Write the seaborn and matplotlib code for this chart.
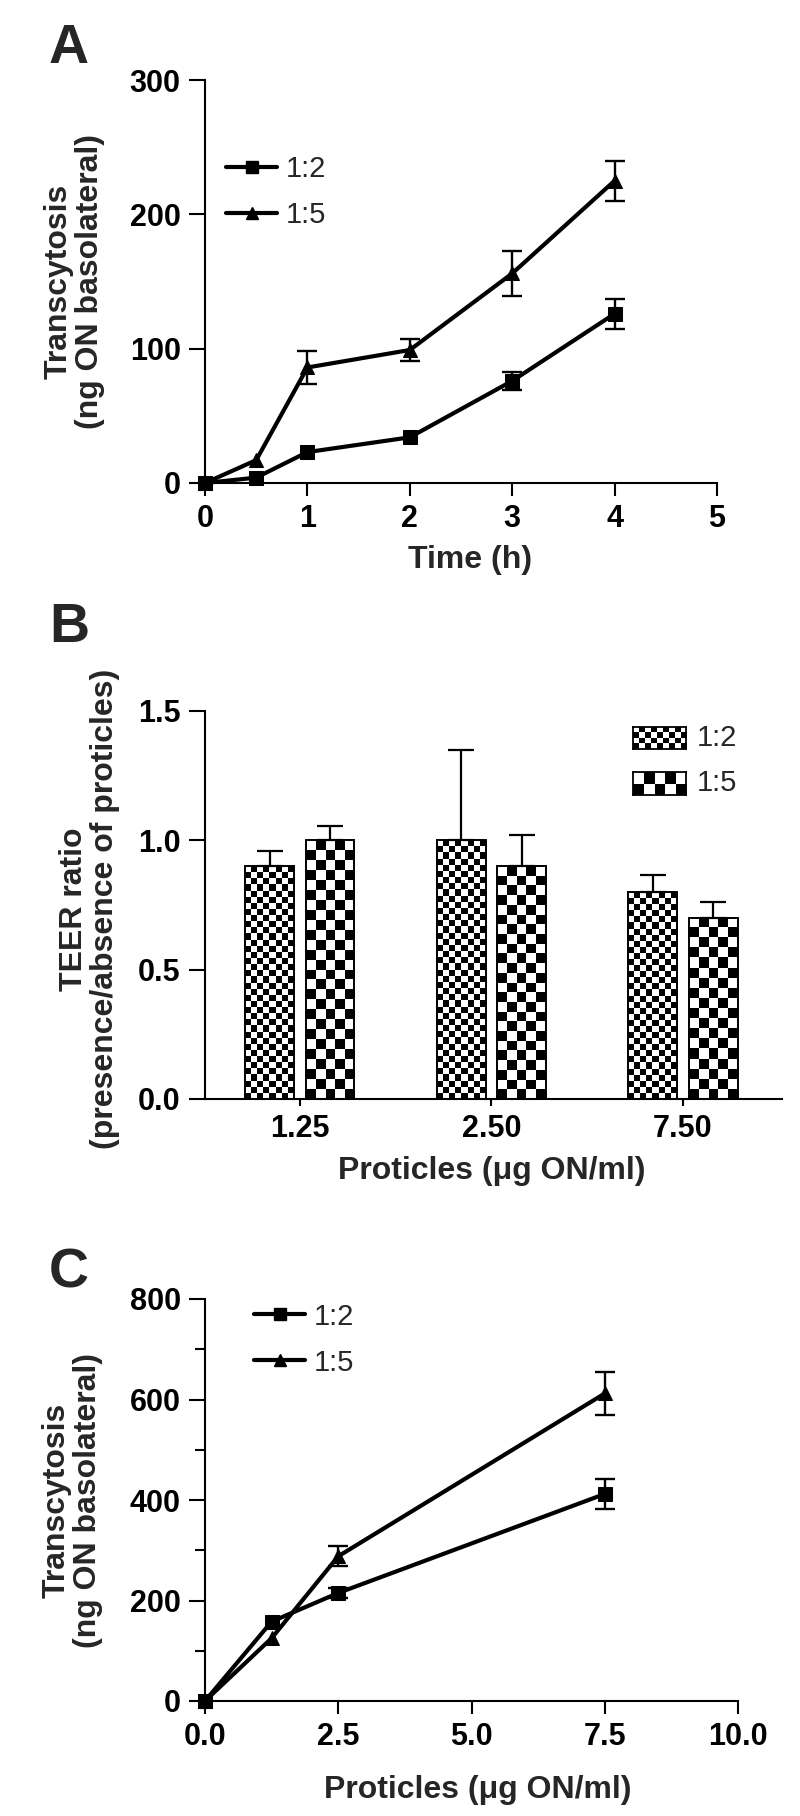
import numpy as np
import pandas as pd
import matplotlib
matplotlib.use("Agg")
import matplotlib.pyplot as plt
from matplotlib.lines import Line2D
import seaborn as sns

# ---------------- data ----------------
ratios = ["1:2", "1:5"]

# Panel A: transcytosis vs time
time_h = [0, 0.5, 1, 2, 3, 4]
a_12 = [0, 4, 23, 34, 76, 126]
a_12_err = [0, 0, 0, 0, 7, 11]
a_15 = [0, 17, 86, 99, 156, 225]
a_15_err = [0, 0, 12, 8, 17, 15]

# Panel B: TEER ratio
conc_labels = ["1.25", "2.50", "7.50"]
b_12 = [0.9, 1.0, 0.8]
b_12_err = [0.06, 0.35, 0.065]
b_15 = [1.0, 0.9, 0.7]
b_15_err = [0.055, 0.12, 0.06]

# Panel C: transcytosis vs concentration
conc = [0, 1.25, 2.5, 7.5]
c_12 = [0, 158, 215, 412]
c_12_err = [0, 0, 10, 30]
c_15 = [0, 125, 288, 612]
c_15_err = [0, 0, 20, 42]

# ---------------- style ----------------
sns.set_theme(style="ticks")
plt.rcParams["font.family"] = ["Liberation Sans", "DejaVu Sans"]
plt.rcParams.update({
    "axes.linewidth": 1.5,
    "xtick.major.width": 1.5, "ytick.major.width": 1.5,
    "xtick.minor.width": 1.5, "ytick.minor.width": 1.5,
    "xtick.major.size": 9, "ytick.major.size": 11.5,
    "ytick.minor.size": 7,
    "xtick.labelsize": 22, "ytick.labelsize": 22,
    "xtick.color": "black", "ytick.color": "black",
    "axes.edgecolor": "black",
})

W, H = 800, 1816
fig = plt.figure(figsize=(W / 100, H / 100), dpi=100)


def rect(l, r, t, b):
    return [l / W, 1 - b / H, (r - l) / W, (b - t) / H]


axA = fig.add_axes(rect(205, 717, 80, 483))
axB = fig.add_axes(rect(205, 782, 711, 1099))
axC = fig.add_axes(rect(205, 738, 1299, 1701))

LW = 3.0
MS = {"1:2": 9, "1:5": 10}
MK = {"1:2": "s", "1:5": "^"}
LABEL_KW = dict(fontsize=23, fontweight="bold")


def line_panel(ax, x, y12, e12, y15, e15):
    df = pd.DataFrame({"x": list(x) * 2, "y": list(y12) + list(y15),
                       "Ratio": ["1:2"] * len(x) + ["1:5"] * len(x)})
    sns.lineplot(data=df, x="x", y="y", hue="Ratio", style="Ratio",
                 markers=MK, dashes=False,
                 palette={"1:2": "black", "1:5": "black"},
                 linewidth=LW, markersize=9.5, markeredgecolor="black",
                 ax=ax, legend=False)
    for ln in ax.lines:
        ln.set_clip_on(False)
        ln.set_zorder(3)
    for yv, ev in ((y12, e12), (y15, e15)):
        xs = [xi for xi, ei in zip(x, ev) if ei > 0]
        ys = [yi for yi, ei in zip(yv, ev) if ei > 0]
        es = [ei for ei in ev if ei > 0]
        ax.errorbar(xs, ys, yerr=es, fmt="none", ecolor="black",
                    elinewidth=1.7, capsize=7, capthick=1.7, zorder=4)
    handles = [Line2D([], [], color="black", lw=LW, marker=MK[r],
                      markersize=MS[r] - 1) for r in ratios]
    return handles


def style_axes(ax):
    sns.despine(ax=ax)
    ax.tick_params(axis="both", which="both", direction="out", pad=6)
    for lab in ax.get_xticklabels() + ax.get_yticklabels():
        lab.set_fontweight("bold")


# ---------------- Panel A ----------------
hA = line_panel(axA, time_h, a_12, a_12_err, a_15, a_15_err)
axA.set_xlim(0, 5)
axA.set_ylim(0, 300)
axA.set_xticks(range(0, 6))
axA.set_yticks([0, 100, 200, 300])
axA.set_xlabel("Time (h)", **LABEL_KW)
axA.set_ylabel("Transcytosis\n(ng ON basolateral)", **LABEL_KW, linespacing=1.05)
style_axes(axA)
axA.xaxis.set_label_coords(0.518, -0.155)
axA.yaxis.set_label_coords(-0.195, 0.5)
axA.legend(hA, ratios, loc="center left", bbox_to_anchor=(0.041, 0.721),
           frameon=False, fontsize=21, handlelength=1.75, handletextpad=0.3,
           labelspacing=0.62, borderpad=0, borderaxespad=0)

# ---------------- Panel B ----------------
dfB = pd.DataFrame({"conc": conc_labels * 2, "teer": b_12 + b_15,
                    "Ratio": ["1:2"] * 3 + ["1:5"] * 3})
sns.barplot(data=dfB, x="conc", y="teer", hue="Ratio", order=conc_labels,
            hue_order=ratios, palette={"1:2": "white", "1:5": "white"},
            edgecolor="black", linewidth=1.4, width=0.63, gap=0.19,
            errorbar=None, legend=False, ax=axB)
axB.set_xlim(-0.495, 2.517)
axB.set_ylim(0, 1.5)
axB.set_yticks([0, 0.5, 1.0, 1.5])
axB.set_yticklabels(["0.0", "0.5", "1.0", "1.5"])
axB.set_xlabel("Proticles (\u03bcg ON/ml)", **LABEL_KW)
axB.set_ylabel("TEER ratio\n(presence/absence of proticles)", **LABEL_KW,
               linespacing=1.05)
style_axes(axB)
axB.tick_params(axis="x", which="major", length=5)
axB.xaxis.set_label_coords(0.497, -0.148)
axB.yaxis.set_label_coords(-0.147, 0.49)

CELL = {"1:2": 6.1, "1:5": 9.8}


def checker(nx, ny):
    return (np.add.outer(np.arange(ny), np.arange(nx)) % 2).astype(float)


bars = list(axB.patches)
fig.canvas.draw()
for i, p in enumerate(bars):
    r = ratios[i // 3]
    x0, y0, w, h = p.get_x(), p.get_y(), p.get_width(), p.get_height()
    (px0, py0), (px1, py1) = axB.transData.transform([(x0, y0), (x0 + w, y0 + h)])
    nx = max(1, int(round(abs(px1 - px0) / CELL[r])))
    ny = max(1, int(round(abs(py1 - py0) / CELL[r])))
    im = axB.imshow(checker(nx, ny), cmap="gray", vmin=0, vmax=1,
                    extent=[x0, x0 + w, y0, y0 + h], origin="lower",
                    interpolation="nearest", aspect="auto", zorder=1.5)
    im.set_clip_path(p)
    p.set_facecolor("none")
    p.set_zorder(2)
axB.set_xlim(-0.495, 2.517)
axB.set_ylim(0, 1.5)

for vals, errs, k in ((b_12, b_12_err, 0), (b_15, b_15_err, 1)):
    xs = [bars[k * 3 + j].get_x() + bars[k * 3 + j].get_width() / 2 for j in range(3)]
    axB.errorbar(xs, vals, yerr=[np.zeros(3), errs], fmt="none", ecolor="black",
                 elinewidth=1.6, capsize=9.5, capthick=1.6, zorder=3)

# legend for B (pattern swatches)
for r, (yb, yt), ny in ((ratios[0], (0.902, 0.959), 4), (ratios[1], (0.784, 0.843), 2)):
    la = axB.inset_axes([0.742, yb, 0.092, yt - yb])
    nx = 9 if r == "1:2" else 5
    la.imshow(checker(nx, ny), cmap="gray", vmin=0, vmax=1, aspect="auto",
              interpolation="nearest", origin="lower")
    la.set_xticks([])
    la.set_yticks([])
    for s in la.spines.values():
        s.set_visible(True)
        s.set_linewidth(1.3)
        s.set_color("black")
    axB.text(0.853, (yb + yt) / 2, r, transform=axB.transAxes, va="center",
             ha="left", fontsize=21)

# ---------------- Panel C ----------------
hC = line_panel(axC, conc, c_12, c_12_err, c_15, c_15_err)
axC.set_xlim(0, 10)
axC.set_ylim(0, 800)
axC.set_xticks([0, 2.5, 5, 7.5, 10])
axC.set_xticklabels(["0.0", "2.5", "5.0", "7.5", "10.0"])
axC.set_yticks([0, 200, 400, 600, 800])
axC.set_yticks([100, 300, 500, 700], minor=True)
axC.set_xlabel("Proticles (\u03bcg ON/ml)", **LABEL_KW)
axC.set_ylabel("Transcytosis\n(ng ON basolateral)", **LABEL_KW, linespacing=1.05)
style_axes(axC)
axC.xaxis.set_label_coords(0.512, -0.185)
axC.yaxis.set_label_coords(-0.191, 0.5)
axC.legend(hC, ratios, loc="center left", bbox_to_anchor=(0.092, 0.899),
           frameon=False, fontsize=21, handlelength=1.75, handletextpad=0.3,
           labelspacing=0.62, borderpad=0, borderaxespad=0)

# panel letters
for letter, base in (("A", 63), ("B", 642), ("C", 1287)):
    fig.text(49 / W, 1 - base / H, letter, fontsize=40, fontweight="bold",
             ha="left", va="baseline")

fig.savefig("out.png", dpi=100)
